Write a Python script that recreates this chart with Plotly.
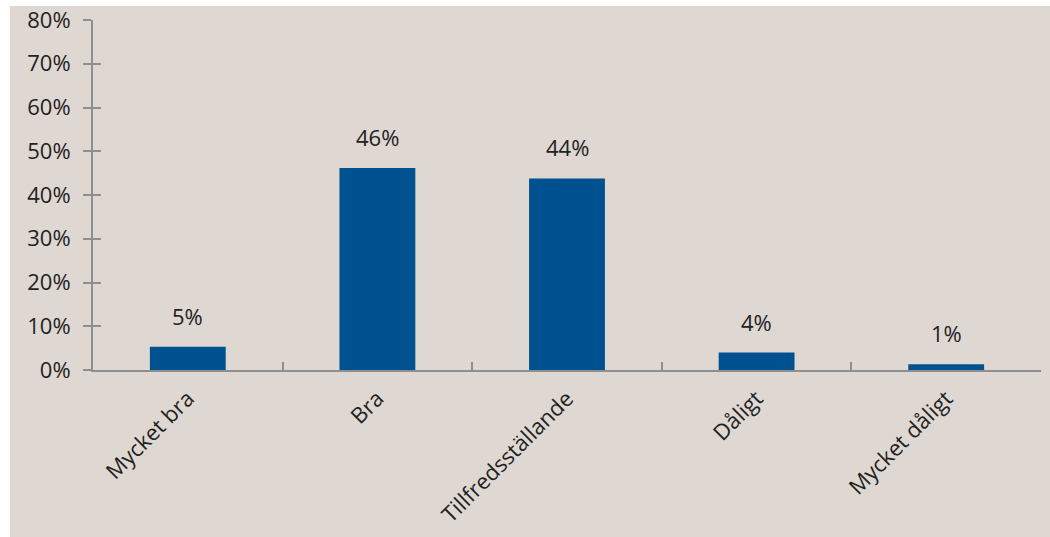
import plotly.graph_objects as go

# Survey answers and their shares (percent)
categories = ["Mycket bra", "Bra", "Tillfredsställande", "Dåligt", "Mycket dåligt"]
shares = [5.3, 46.2, 43.8, 4.0, 1.3]
y_ticks = [0, 10, 20, 30, 40, 50, 60, 70, 80]
y_tick_text = [f"{v}%" for v in y_ticks]

BAR = "#00518F"
AXIS = "#8E8E8E"
PANEL = "#DFD8D2"
TEXT = "#222222"
FONT = "Open Sans"

fig = go.Figure()

fig.add_trace(go.Bar(
    x=categories, y=shares,
    marker=dict(color=BAR, line=dict(width=0)),
    width=0.4,
    hoverinfo="skip",
))

# helper trace so the second y axis (inner tick marks) is drawn
fig.add_trace(go.Scatter(
    x=[categories[0]], y=[0], yaxis="y2", mode="markers",
    marker=dict(opacity=0), hoverinfo="skip", showlegend=False,
))

# value labels above each bar
for c, v in zip(categories, shares):
    fig.add_annotation(
        x=c, y=v, text=f"{v:.0f}%", showarrow=False,
        yanchor="bottom", yshift=14,
        font=dict(family=FONT, size=22, color=TEXT),
    )

# beige chart panel
fig.add_shape(
    type="rect", xref="paper", yref="paper",
    x0=-0.0876, x1=1.05, y0=-0.6, y1=1.04,
    fillcolor=PANEL, line=dict(width=0), layer="below",
)

fig.update_layout(
    width=1050, height=537,
    margin=dict(l=93, r=9, t=20, b=167, autoexpand=False),
    paper_bgcolor="white",
    plot_bgcolor="rgba(0,0,0,0)",
    showlegend=False,
    font=dict(family=FONT, size=22, color=TEXT),
    xaxis=dict(
        type="category", automargin=False,
        showgrid=False, zeroline=False,
        showline=True, linecolor=AXIS, linewidth=2,
        ticks="inside", tickson="boundaries", ticklen=8,
        tickwidth=2, tickcolor=AXIS,
        tickangle=-45, ticklabelstandoff=5,
        tickfont=dict(family=FONT, size=22, color=TEXT),
    ),
    yaxis=dict(
        range=[0, 80], tickmode="array",
        tickvals=y_ticks, ticktext=y_tick_text,
        automargin=False,
        showgrid=False, zeroline=False,
        showline=True, linecolor=AXIS, linewidth=2,
        ticks="outside", ticklen=8, tickwidth=2, tickcolor=AXIS,
        ticklabelstandoff=8,
        tickfont=dict(family=FONT, size=22, color=TEXT),
    ),
    yaxis2=dict(
        overlaying="y", side="left", anchor="x",
        range=[0, 80], tickmode="array", tickvals=y_ticks,
        automargin=False,
        showgrid=False, zeroline=False, showline=False,
        showticklabels=False,
        ticks="inside", ticklen=8, tickwidth=2, tickcolor=AXIS,
    ),
)

fig.write_html("out.html")
